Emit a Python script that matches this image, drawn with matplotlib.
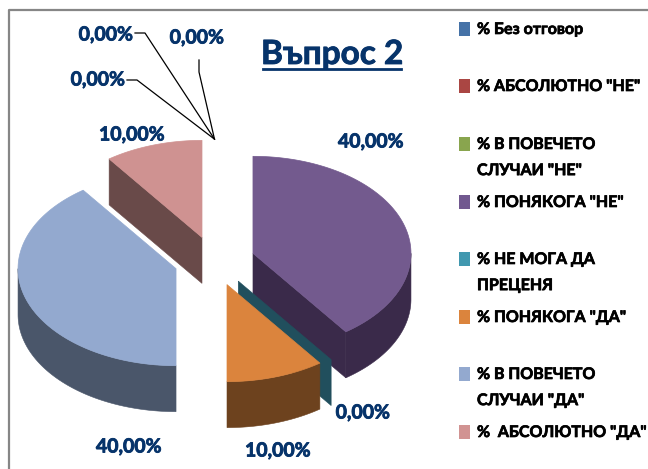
import numpy as np
import matplotlib
matplotlib.use("Agg")
import matplotlib.pyplot as plt
import matplotlib.patheffects as pe
from matplotlib.patches import Polygon, Rectangle
from matplotlib.transforms import Affine2D

categories = ['% Без отговор', '% АБСОЛЮТНО "НЕ"', '% В ПОВЕЧЕТО\nСЛУЧАИ "НЕ"', '% ПОНЯКОГА "НЕ"',
              '% НЕ МОГА ДА\nПРЕЦЕНЯ', '% ПОНЯКОГА "ДА"', '% В ПОВЕЧЕТО\nСЛУЧАИ "ДА"', '%  АБСОЛЮТНО "ДА"']
values = [0, 0, 0, 40, 0, 10, 40, 10]
title = 'Въпрос 2'

top_colors = ['#4572A7', '#AA4643', '#89A54E', '#735A8E', '#4198AF', '#DB843D', '#93A9CF', '#CF9291']
wall_colors = ['#22395A', '#552322', '#445327', '#3A2A4A', '#214F5D', '#6D421E', '#4A566A', '#694A49']
legend_colors = ['#4572A7', '#AA4643', '#89A54E', '#71588F', '#4198AF', '#DB843D', '#93A9CF', '#D19392']

FONT = ['Lato', 'DejaVu Sans']
NAVY = '#06336A'

W, H = 648, 469
fig = plt.figure(figsize=(W / 100, H / 100), dpi=100, facecolor='white')
px = Affine2D().scale(1 / W, -1 / H).translate(0, 1) + fig.transFigure

# pie axes: one data unit = pie radius
cx, cy, rx, ry = 214.5, 261.0, 158.0, 97.0
ax = fig.add_axes([0, 0, 1, 1])
ax.set_xlim(-cx / rx, (W - cx) / rx)
ax.set_ylim((cy - H) / ry, cy / ry)
ax.axis('off')
depth = 46 / ry
explode = 0.256


def point(theta, r=1.0):
    return np.array([r * np.sin(theta), r * np.cos(theta)])


def heavy(color, w):
    return [pe.withStroke(linewidth=w, foreground=color)]


total = sum(values)
edges = np.deg2rad(np.cumsum([0] + values) / total * 360)
slices = []
for i, v in enumerate(values):
    a0, a1 = edges[i], edges[i + 1]
    mid = (a0 + a1) / 2
    slices.append((i, a0, a1, point(mid, explode)))
slices.sort(key=lambda s: -s[3][1])

for i, a0, a1, apex in slices:
    down = np.array([0, -depth])
    for th, visible in ((a1, np.sin(a1) > 1e-6), (a0, np.sin(a0) < -1e-6)):
        if visible:
            o = apex + point(th)
            ax.add_patch(Polygon([apex, o, o + down, apex + down], fc=wall_colors[i],
                                 ec=wall_colors[i], lw=0.4))
    lo, hi = max(a0, np.pi / 2), min(a1, 3 * np.pi / 2)
    if hi > lo:
        t = np.linspace(lo, hi, 80)
        arc = np.array([apex + point(x) for x in t])
        ax.add_patch(Polygon(np.vstack([arc, (arc + down)[::-1]]), fc=wall_colors[i],
                             ec=wall_colors[i], lw=0.4))
    if a1 > a0:
        t = np.linspace(a0, a1, 120)
        ax.add_patch(Polygon(np.vstack([apex, [apex + point(x) for x in t]]),
                             fc=top_colors[i], ec=top_colors[i], lw=0.5, joinstyle='round'))

# frame: only top and left sides show
fig.add_artist(plt.Line2D([9, 9, W], [H, 10, 10], transform=px, color='#868686', lw=1.6))

# title
fig.text(332, 64, title, transform=px, ha='center', va='baseline', family=FONT,
         fontsize=24, fontweight='bold', color=NAVY, path_effects=heavy(NAVY, 0.6))
fig.add_artist(plt.Line2D([263, 401], [69.5, 69.5], transform=px, color=NAVY, lw=2))

# data labels
label_pos = [(106, 35), (98, 80), (197, 38), (371, 142), (363, 413), (278, 451), (129, 447), (132, 135)]
for v, (x, y) in zip(values, label_pos):
    fig.text(x, y, f'{v:.2f}%'.replace('.', ','), transform=px, ha='center', va='center', family=FONT,
             fontsize=14, fontweight='bold', color=NAVY, path_effects=heavy(NAVY, 0.6))

# leader lines to the zero slices
tip = (cx, cy - explode * ry - ry)
for start, knee in (((135, 33), (145, 33)), ((127, 80), (137, 80)), ((199, 60), (199, 72))):
    fig.add_artist(plt.Line2D([start[0], knee[0], tip[0]], [start[1], knee[1], tip[1]],
                              transform=px, color='black', lw=0.9))

# legend
legend_y = [29, 86, 144, 202, 259, 317, 374, 432]
for c, col, y in zip(categories, legend_colors, legend_y):
    fig.add_artist(Rectangle((459, y - 7), 11, 14, transform=px, fc=col, ec='none'))
    fig.text(477, y - 6, c, transform=px, ha='left', va='top', family=FONT, fontsize=11.5,
             fontweight='bold', color='black', linespacing=2.1, path_effects=heavy('black', 0.5))

fig.savefig('out.png', dpi=100, facecolor='white')
